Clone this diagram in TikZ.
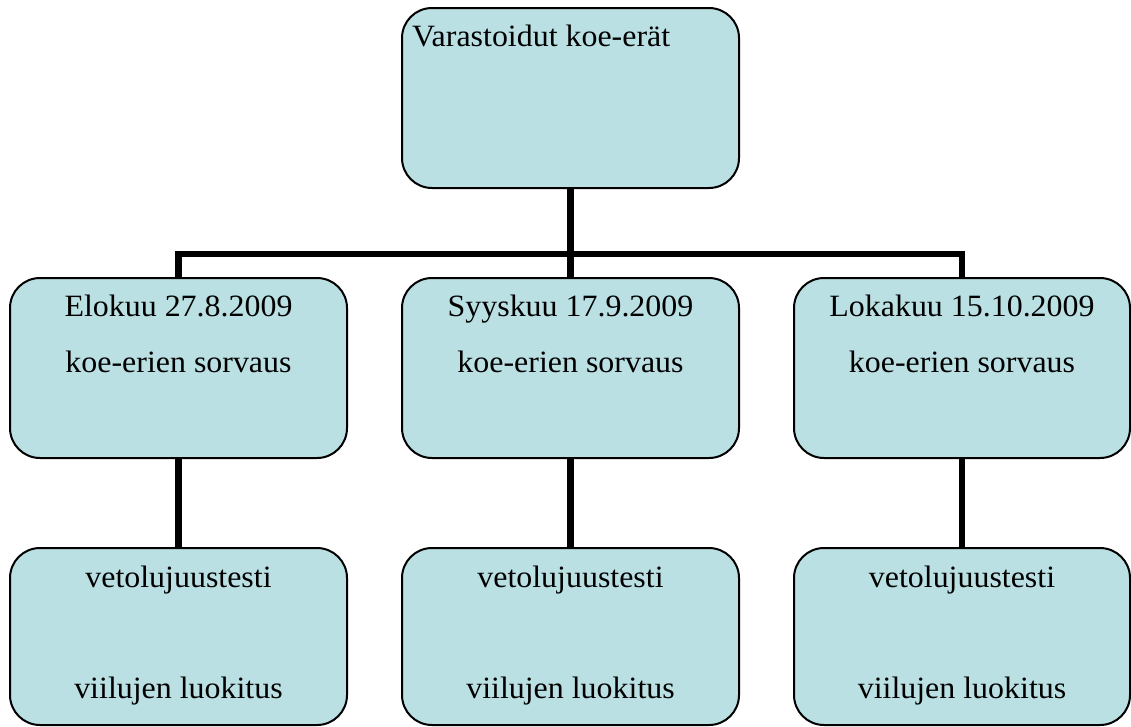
\documentclass[tikz,border=0pt]{standalone}
\usepackage{fontspec}
\setmainfont{Liberation Serif}[FakeStretch=1.03]
\definecolor{boxfill}{RGB}{186,224,227}
\begin{document}
\begin{tikzpicture}[x=1pt,y=-1pt,
  box/.style={draw=black,line width=2pt,fill=boxfill,rounded corners=30pt,
    minimum width=337pt,inner sep=0pt,outer sep=0pt},
  conn/.style={line width=6.5pt,draw=black},
  lbl/.style={anchor=base,inner sep=0pt,font=\fontsize{31}{36}\selectfont}]
\useasboundingbox (0,0) rectangle (1131,726);
% boxes
\node[box,minimum height=180pt] (top) at (570.5,98) {};
\node[box,minimum height=180pt] (m1) at (178.5,368) {};
\node[box,minimum height=180pt] (m2) at (570.5,368) {};
\node[box,minimum height=180pt,minimum width=336pt] (m3) at (962,368) {};
\node[box,minimum height=177pt] (b1) at (178.5,636.5) {};
\node[box,minimum height=177pt] (b2) at (570.5,636.5) {};
\node[box,minimum height=177pt,minimum width=336pt] (b3) at (962,636.5) {};
\coordinate (bus) at (0,254);
% connectors
\draw[conn] (top.south) -- (top.south |- bus);
\draw[conn,line cap=rect] (m1.north |- bus) -- (m3.north |- bus);
\draw[conn] (m1.north |- bus) -- (m1.north);
\draw[conn] (m2.north |- bus) -- (m2.north);
\draw[conn] (m3.north |- bus) -- (m3.north);
\draw[conn] (m1.south) -- (b1.north);
\draw[conn] (m2.south) -- (b2.north);
\draw[conn] (m3.south) -- (b3.north);
% texts
\node[lbl,anchor=base west] (t0) at (412,46) {Varastoidut koe-erät};
\node[lbl] (t1a) at (m1 |- 0,316) {Elokuu 27.8.2009};
\node[lbl] (t1b) at (m1 |- 0,372) {koe-erien sorvaus};
\node[lbl] (t2a) at (m2 |- 0,316) {Syyskuu 17.9.2009};
\node[lbl] (t2b) at (m2 |- 0,372) {koe-erien sorvaus};
\node[lbl] (t3a) at (m3 |- 0,316) {Lokakuu 15.10.2009};
\node[lbl] (t3b) at (m3 |- 0,372) {koe-erien sorvaus};
\node[lbl] (u1a) at (b1 |- 0,587) {vetolujuustesti};
\node[lbl] (u1b) at (b1 |- 0,698) {viilujen luokitus};
\node[lbl] (u2a) at (b2 |- 0,587) {vetolujuustesti};
\node[lbl] (u2b) at (b2 |- 0,698) {viilujen luokitus};
\node[lbl] (u3a) at (b3 |- 0,587) {vetolujuustesti};
\node[lbl] (u3b) at (b3 |- 0,698) {viilujen luokitus};
\end{tikzpicture}
\end{document}
